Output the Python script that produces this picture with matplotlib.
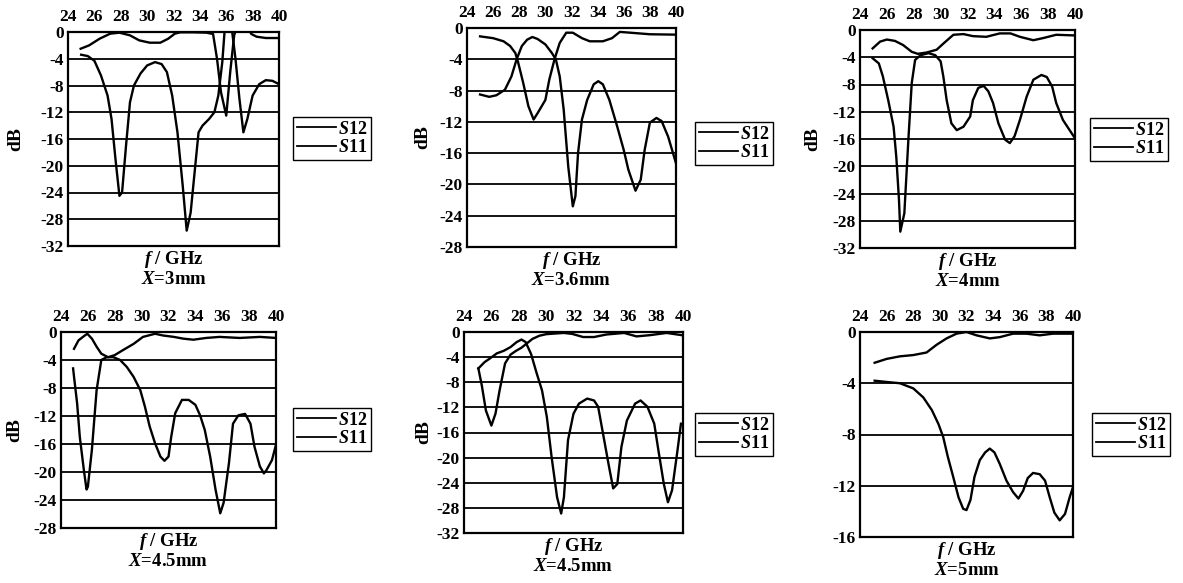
import matplotlib
matplotlib.use("Agg")
import matplotlib.pyplot as plt
from matplotlib.lines import Line2D

plt.rcParams["font.family"] = ["Liberation Serif", "DejaVu Serif"]
plt.rcParams["font.weight"] = "bold"
plt.rcParams["axes.labelweight"] = "bold"
plt.rcParams["axes.unicode_minus"] = False
plt.rcParams["mathtext.fontset"] = "custom"
plt.rcParams["mathtext.it"] = "Liberation Serif:italic:bold"
plt.rcParams["mathtext.rm"] = "Liberation Serif:bold"
plt.rcParams["mathtext.bf"] = "Liberation Serif:bold"

# ---- data (frequency in GHz, level in dB) ----
f12_a = [24.96, 25.6, 26.4, 27.2, 27.9, 28.7, 29.4, 30.2, 31.0, 31.6, 32.1, 32.5, 33.5, 34.5, 35.0,
         35.3, 35.6, 36.0, 36.3, 36.6, 36.8, 37.6, 37.9, 38.3, 39.0, 40.0]
s12_a = [-2.5, -2.0, -1.0, -0.25, -0.1, -0.5, -1.25, -1.6, -1.6, -1.0, -0.25, -0.05, -0.05, -0.1, -0.3,
         -4.0, -9.0, -12.5, -6.0, -0.5, 0.8, 0.8, -0.3, -0.7, -0.9, -0.9]
f11_a = [25.0, 25.5, 26.0, 26.5, 27.0, 27.3, 27.6, 27.9, 28.1, 28.4, 28.7, 29.0, 29.5, 30.0, 30.6,
         31.1, 31.5, 31.9, 32.3, 32.7, 33.0, 33.3, 33.6, 33.9, 34.2, 34.7, 35.1, 35.4, 35.7, 35.9,
         36.4, 36.7, 37.0, 37.3, 37.6, 38.0, 38.5, 39.0, 39.5, 40.0]
s11_a = [-3.4, -3.6, -4.3, -6.5, -9.5, -13.0, -19.0, -24.5, -24.0, -17.0, -10.5, -8.0, -6.2, -5.0, -4.5,
         -4.8, -6.0, -9.5, -15.0, -23.0, -29.7, -27.0, -21.0, -15.0, -14.0, -13.0, -12.0, -9.5, -4.5, 0.8,
         0.8, -4.0, -10.0, -15.0, -13.0, -9.5, -7.8, -7.2, -7.3, -7.8]

f12_b = [25.0, 26.0, 26.8, 27.3, 27.7, 27.9, 28.3, 28.7, 29.1, 29.4, 30.0, 30.3, 30.7, 31.1, 31.6,
         32.1, 32.8, 33.4, 34.4, 35.1, 35.7, 36.5, 38.0, 40.0]
s12_b = [-1.07, -1.3, -1.7, -2.3, -3.2, -4.3, -7.0, -10.0, -11.7, -10.9, -9.2, -6.6, -4.0, -1.9, -0.6,
         -0.6, -1.3, -1.7, -1.7, -1.3, -0.5, -0.6, -0.8, -0.85]
f11_b = [25.0, 25.7, 26.25, 26.9, 27.4, 27.8, 28.2, 28.6, 29.0, 29.4, 30.0, 30.5, 30.8, 31.1, 31.4,
         31.75, 32.1, 32.3, 32.5, 32.8, 33.2, 33.7, 34.05, 34.4, 34.9, 35.5, 36.0, 36.35, 36.9, 37.3,
         37.6, 38.0, 38.5, 38.9, 39.4, 40.0]
s11_b = [-8.5, -8.8, -8.6, -7.9, -6.2, -4.0, -2.3, -1.5, -1.15, -1.4, -2.1, -3.2, -4.0, -6.2, -10.4,
         -17.7, -22.8, -21.5, -16.0, -11.7, -9.2, -7.2, -6.8, -7.2, -9.2, -12.6, -15.6, -18.1, -20.8, -19.4,
         -15.6, -12.1, -11.5, -11.9, -13.9, -17.3]

f12_c = [24.94, 25.5, 26.0, 26.6, 27.2, 27.85, 28.3, 28.96, 29.7, 30.2, 30.95, 31.7, 32.4, 33.4, 34.4,
         35.2, 35.9, 36.9, 37.6, 38.6, 40.0]
s12_c = [-2.7, -1.7, -1.4, -1.6, -2.2, -3.2, -3.5, -3.3, -2.9, -2.0, -0.7, -0.6, -0.9, -1.0, -0.5,
         -0.5, -1.0, -1.5, -1.2, -0.7, -0.8]
f11_c = [24.94, 25.4, 25.7, 26.1, 26.5, 26.7, 26.9, 27.0, 27.3, 27.6, 27.85, 28.1, 28.5, 29.1, 29.6,
         30.0, 30.2, 30.45, 30.8, 31.2, 31.7, 32.2, 32.4, 32.8, 33.2, 33.55, 33.9, 34.3, 34.8, 35.15,
         35.5, 35.9, 36.4, 36.9, 37.5, 37.9, 38.3, 38.6, 39.1, 39.6, 40.0]
s11_c = [-4.15, -4.9, -6.8, -10.3, -14.2, -18.6, -24.9, -29.6, -26.9, -16.1, -7.8, -4.4, -3.7, -3.4, -3.7,
         -4.6, -6.8, -10.3, -13.7, -14.7, -14.2, -12.7, -10.3, -8.5, -8.2, -9.0, -10.7, -13.7, -16.1, -16.6,
         -15.6, -13.2, -9.8, -7.3, -6.6, -6.9, -8.3, -10.7, -13.2, -14.7, -15.9]

f12_d = [24.97, 25.3, 25.7, 25.96, 26.3, 26.65, 27.0, 27.5, 28.0, 28.6, 29.4, 30.1, 31.0, 31.6, 32.4,
         33.1, 33.85, 34.8, 35.8, 37.3, 38.8, 40.0]
s12_d = [-2.4, -1.2, -0.6, -0.25, -0.95, -2.1, -3.1, -3.6, -3.3, -2.6, -1.7, -0.7, -0.25, -0.5, -0.7,
         -0.95, -1.1, -0.85, -0.7, -0.85, -0.7, -0.85]
f11_d = [24.9, 24.97, 25.2, 25.4, 25.7, 25.9, 26.0, 26.3, 26.65, 27.0, 27.4, 27.9, 28.4, 28.9, 29.4,
         29.9, 30.25, 30.6, 31.0, 31.4, 31.7, 32.0, 32.2, 32.5, 33.0, 33.5, 34.0, 34.35, 34.7, 35.1,
         35.5, 35.85, 36.1, 36.5, 36.8, 37.2, 37.7, 38.1, 38.4, 38.8, 39.1, 39.3, 39.7, 40.0]
s11_d = [-5.2, -6.4, -10.2, -15.0, -19.7, -22.5, -22.1, -16.8, -8.3, -4.0, -3.6, -3.6, -4.0, -5.0, -6.4,
         -8.3, -10.7, -13.5, -15.9, -17.8, -18.4, -17.8, -15.0, -11.6, -9.7, -9.7, -10.4, -11.9, -14.0, -17.8,
         -22.5, -25.9, -24.4, -18.7, -13.1, -11.9, -11.7, -13.1, -16.4, -19.2, -20.2, -19.7, -18.3, -16.1]

f12_e = [25.05, 25.3, 25.6, 26.0, 26.3, 26.6, 27.0, 27.4, 27.8, 28.2, 28.6, 29.0, 29.5, 30.0, 30.6,
         31.3, 31.9, 32.7, 33.5, 34.4, 35.7, 36.6, 37.6, 38.8, 39.9]
s12_e = [-5.8, -8.5, -12.5, -14.9, -13.0, -9.3, -5.0, -3.6, -3.0, -2.5, -1.8, -1.1, -0.6, -0.35, -0.25,
         -0.15, -0.3, -0.8, -0.8, -0.4, -0.15, -0.7, -0.5, -0.15, -0.5]
f11_e = [25.05, 25.5, 25.9, 26.4, 26.9, 27.4, 27.85, 28.2, 28.5, 28.9, 29.3, 29.7, 30.05, 30.4, 30.8,
         31.1, 31.3, 31.6, 32.0, 32.4, 33.0, 33.5, 33.8, 34.2, 34.6, 34.9, 35.2, 35.5, 35.9, 36.5,
         36.9, 37.4, 37.9, 38.2, 38.6, 38.9, 39.2, 39.6, 39.85]
s11_e = [-5.8, -4.8, -4.2, -3.4, -3.0, -2.4, -1.6, -1.2, -1.6, -3.5, -6.5, -9.3, -13.5, -19.9, -26.3,
         -28.9, -26.3, -17.2, -13.0, -11.4, -10.6, -10.9, -11.9, -16.7, -21.5, -24.9, -24.2, -18.3, -14.1, -11.4,
         -10.9, -11.9, -14.6, -18.8, -24.2, -27.1, -25.2, -18.8, -14.6]

f12_f = [25.1, 26.0, 27.0, 28.0, 29.0, 29.75, 30.5, 31.25, 32.0, 32.75, 33.75, 34.5, 35.5, 36.5, 37.5,
         38.5, 39.9]
s12_f = [-2.4, -2.1, -1.9, -1.8, -1.6, -1.0, -0.5, -0.13, 0.0, -0.26, -0.5, -0.4, -0.13, -0.13, -0.26,
         -0.13, -0.13]
f11_f = [25.1, 26.0, 27.0, 28.0, 28.75, 29.4, 29.9, 30.25, 30.6, 31.0, 31.4, 31.75, 32.0, 32.3, 32.6,
         33.0, 33.4, 33.75, 34.1, 34.5, 35.0, 35.5, 35.9, 36.25, 36.6, 37.0, 37.5, 37.9, 38.25, 38.6,
         39.0, 39.4, 39.75, 40.0]
s11_f = [-3.8, -3.9, -4.0, -4.4, -5.1, -6.1, -7.2, -8.2, -9.75, -11.3, -12.9, -13.8, -13.9, -13.1, -11.3,
         -10.0, -9.4, -9.1, -9.4, -10.3, -11.6, -12.5, -13.0, -12.4, -11.4, -11.0, -11.1, -11.6, -12.9, -14.1,
         -14.7, -14.2, -12.9, -12.1]

captions = ["3mm", "3.6mm", "4mm", "4.5mm", "4.5mm", "5mm"]
y_bottoms = [-32, -28, -32, -28, -32, -16]
x_ticks = [24, 26, 28, 30, 32, 34, 36, 38, 40]
series_labels = [r"$\mathit{S}$12", r"$\mathit{S}$11"]

panels = [
    (f12_a, s12_a, f11_a, s11_a),
    (f12_b, s12_b, f11_b, s11_b),
    (f12_c, s12_c, f11_c, s11_c),
    (f12_d, s12_d, f11_d, s11_d),
    (f12_e, s12_e, f11_e, s11_e),
    (f12_f, s12_f, f11_f, s11_f),
]

# ---- layout in pixels (left, right, top, bottom) and legend top-left corner ----
W, H = 1183, 583
axes_px = [(68, 279, 32, 246), (467, 676, 28, 247), (860, 1075, 30, 248),
           (61, 276, 332, 528), (464, 683, 332, 533), (860, 1073, 332, 537)]
legend_px = [(293, 117), (695, 122), (1090, 118), (293, 408), (695, 413), (1092, 413)]
ylabel_pads = [12, 6, 8, 7, 3, 0]

fig = plt.figure(figsize=(W / 100, H / 100), dpi=100)

for i, (f12, s12, f11, s11) in enumerate(panels):
    l, r, t, b = axes_px[i]
    ax = fig.add_axes([l / W, 1 - b / H, (r - l) / W, (b - t) / H])
    ax.plot(f12, s12, color="black", lw=1.7, solid_joinstyle="round")
    ax.plot(f11, s11, color="black", lw=1.7, solid_joinstyle="round")
    ax.set_xlim(24, 40)
    ax.set_ylim(y_bottoms[i], 0)
    ax.set_xticks(x_ticks)
    ax.set_yticks(range(y_bottoms[i], 1, 4))
    ax.xaxis.tick_top()
    ax.tick_params(length=0, labelsize=12.5)
    ax.tick_params(axis="x", pad=5)
    ax.tick_params(axis="y", pad=3)
    ax.grid(axis="y", color="black", lw=1.3)
    for sp in ax.spines.values():
        sp.set_linewidth(1.6)
    if i != 5:
        ax.set_ylabel("dB", fontsize=14, labelpad=ylabel_pads[i])
    ax.set_xlabel(r"$\mathit{f}$ / GHz" + "\n" + r"$\mathit{X}$=" + captions[i],
                  fontsize=13.5, labelpad=2, linespacing=1.1)
    handles = [Line2D([], [], color="black", lw=1.3), Line2D([], [], color="black", lw=1.3)]
    lx, ly = legend_px[i]
    leg = ax.legend(handles, series_labels, loc="upper left",
                    bbox_to_anchor=(lx / W, 1 - ly / H), bbox_transform=fig.transFigure,
                    borderaxespad=0, fancybox=False, framealpha=1, edgecolor="black",
                    fontsize=13, handlelength=2.2, handletextpad=0.1, labelspacing=0.1,
                    borderpad=0.2)
    leg.get_frame().set_linewidth(1.0)

fig.savefig("out.png", dpi=100)
